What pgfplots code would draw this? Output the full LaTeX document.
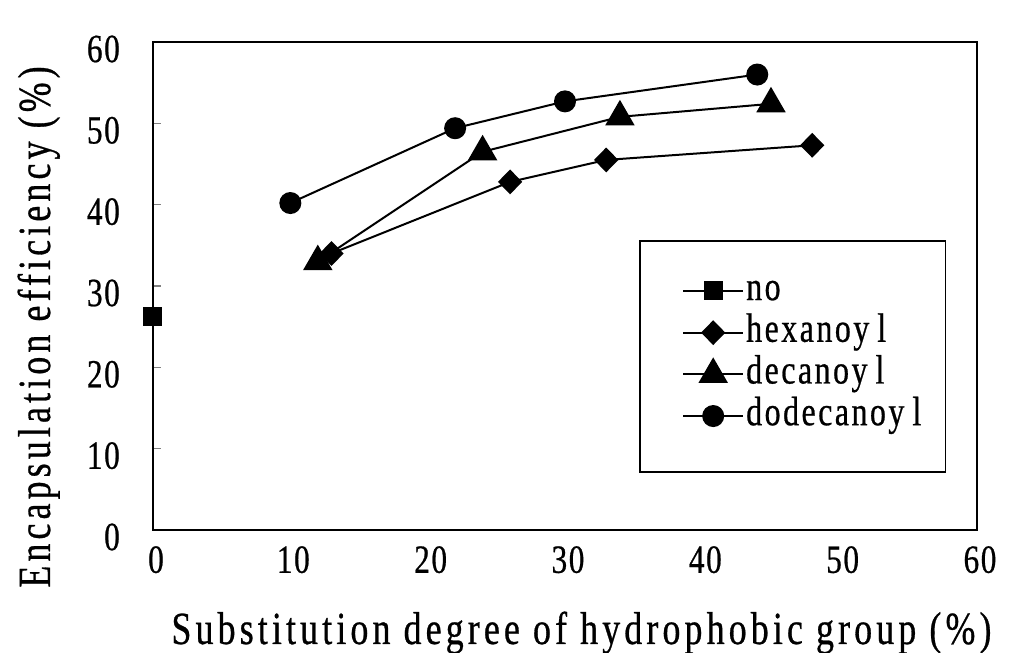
\documentclass[border=0pt]{standalone}
\usepackage{fontspec}
\setmainfont[FakeStretch=0.78,FakeBold=0.6]{Liberation Serif}
\newfontfamily\labfam[FakeStretch=0.78,FakeBold=0.6,LetterSpace=9]{Liberation Serif}
\newfontfamily\legfam[FakeStretch=0.78,FakeBold=0.6,LetterSpace=6]{Liberation Serif}
\newfontfamily\tickfam[FakeStretch=0.78,FakeBold=0.6,LetterSpace=4]{Liberation Serif}
\usepackage{pgfplots}
\pgfplotsset{compat=1.18}
\newcommand{\tickfont}{\tickfam\fontsize{40pt}{40pt}\selectfont}
\newcommand{\labfont}{\labfam\fontsize{46pt}{46pt}\selectfont}
\newcommand{\legfont}{\legfam\fontsize{41pt}{41pt}\selectfont}
\begin{document}
\begin{tikzpicture}
\path[use as bounding box] (-153pt,-123pt) rectangle (865pt,530pt);
\begin{axis}[
  at={(0pt,0pt)}, anchor=south west,
  scale only axis, width=824pt, height=488pt,
  xmin=0, xmax=60, ymin=0, ymax=60,
  xtick={0,10,...,60}, ytick={0,10,...,60},
  clip=false,
  axis line style={line width=1.8pt},
  /pgf/number format/assume math mode=true,
  tick label style={font=\tickfont},
  xtick style={draw=none},
  ytick pos=left, tick align=inside,
  major tick length=8pt,
  ytick style={line width=1.5pt},
  yticklabel style={anchor=east, inner sep=0pt, xshift=-33pt, yshift=-7pt},
  xticklabel style={anchor=north, inner sep=0pt, yshift=-16pt, xshift=3pt},
  xlabel={Substitution degree of hydrophobic group (\%)},
  ylabel={Encapsulation efficiency (\%)},
  label style={font=\labfont},
  xlabel style={at={(axis description cs:0.52,-0.2336)}, anchor=base, inner sep=0pt},
  ylabel style={at={(axis description cs:-0.125,0.416)}, anchor=base, inner sep=0pt},
  legend style={at={(axis description cs:0.642,0.533)}, anchor=north west,
    draw=none, fill=none, inner sep=0pt, row sep=0pt, column sep=2pt,
    font=\legfont, nodes={inner sep=0pt, text height=30pt, text depth=11.7pt}},
  legend cell align=left,
  legend image code/.code={\draw[#1, mark repeat=2, mark phase=2] plot coordinates {(0pt,0pt)(30pt,0pt)(60pt,0pt)};},
  every axis plot/.append style={black, line width=2pt, mark options={solid}},
]
\addplot[mark=square*, mark size=8.5pt] coordinates {(0,26.3)};
\addlegendentry{no}
\addplot[mark=diamond*, mark size=11pt, mark options={xscale=1.3}] coordinates {(13,34.0) (26,42.8) (33,45.5) (48,47.3)};
\addlegendentry{hexanoy\hspace{8pt}l}
\addplot[mark=triangle*, mark size=15pt] coordinates {(12,33.0) (24,46.5) (34,50.8) (45,52.4)};
\addlegendentry{decanoy\hspace{8pt}l}
\addplot[mark=*, mark size=10pt] coordinates {(10,40.2) (22,49.4) (30,52.7) (44,56.0)};
\addlegendentry{dodecanoy\hspace{8pt}l}
\draw[line width=1.5pt] (rel axis cs:0.591,0.592) rectangle (rel axis cs:0.962,0.119);
\end{axis}
\end{tikzpicture}
\end{document}
